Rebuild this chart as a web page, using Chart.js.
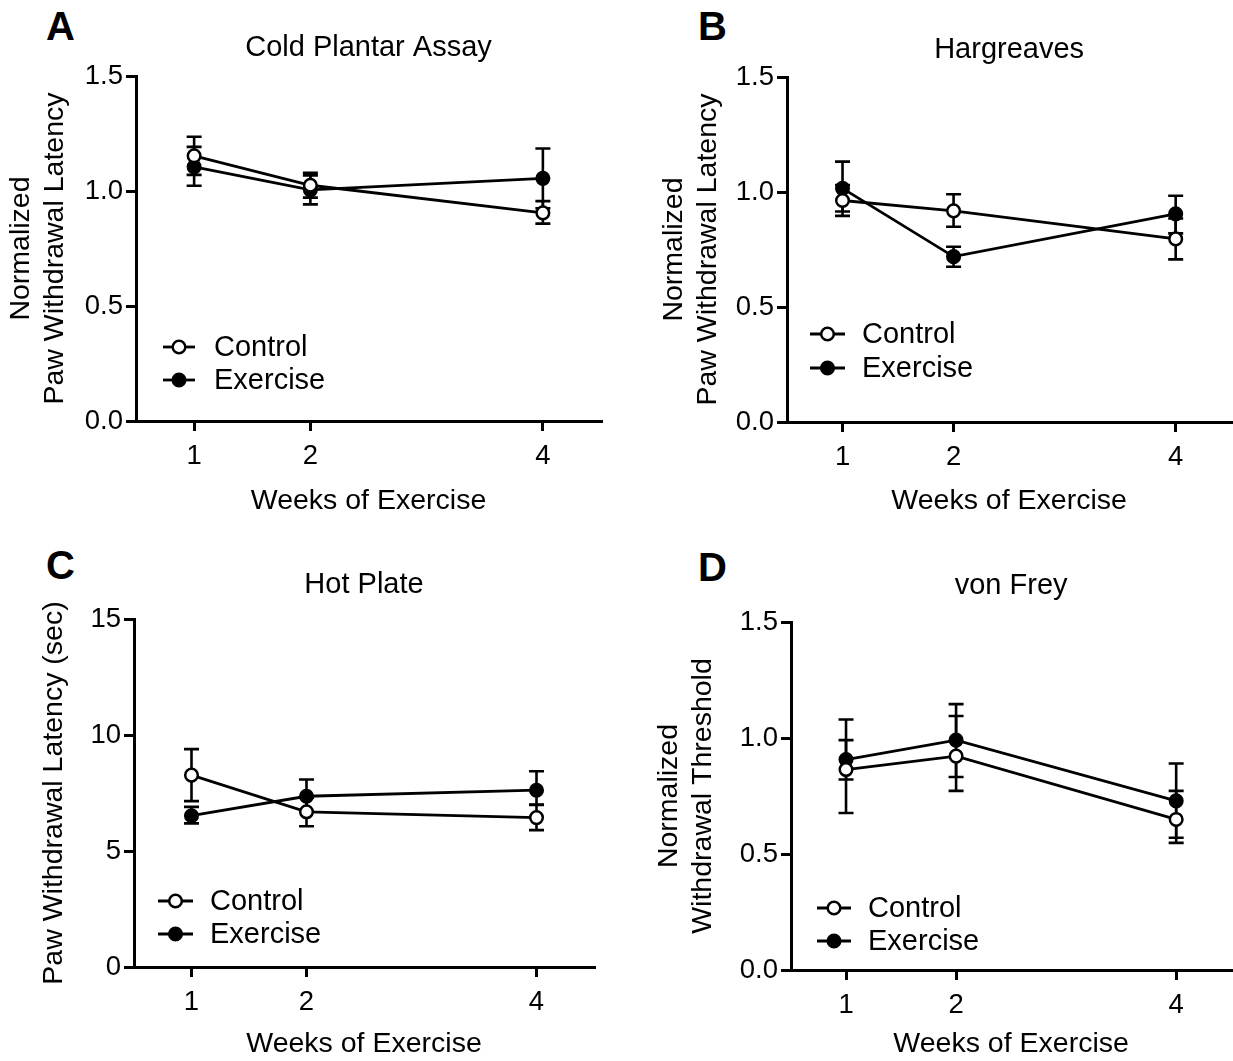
<!DOCTYPE html>
<html><head><meta charset="utf-8">
<script src="https://cdn.jsdelivr.net/npm/chart.js@4.4.1/dist/chart.umd.min.js"></script>
<style>
html,body{margin:0;padding:0;background:#fff;overflow:hidden;width:1233px;height:1061px;position:relative;}
canvas{position:absolute;}
.letter{position:absolute;font:bold 40px "Liberation Sans",Arial,sans-serif;color:#000;line-height:1;}
</style></head><body>
<div class="letter" style="left:46px;top:6px">A</div>
<div class="letter" style="left:698px;top:6px">B</div>
<div class="letter" style="left:46px;top:545px">C</div>
<div class="letter" style="left:698px;top:547px">D</div>
<canvas id="cA"></canvas><canvas id="cB"></canvas><canvas id="cC"></canvas><canvas id="cD"></canvas>
<script>
// ---- data ----
const weeks = [1, 2, 4];
const xTickLabels = ['1', '2', '4'];
const seriesNames = ['Control', 'Exercise'];
const panelTitles = ['Cold Plantar Assay', 'Hargreaves', 'Hot Plate', 'von Frey'];
const xAxisTitle = 'Weeks of Exercise';
const yTitleA = ['Normalized', 'Paw Withdrawal Latency'];
const yTitleB = ['Normalized', 'Paw Withdrawal Latency'];
const yTitleC = ['Paw Withdrawal Latency (sec)'];
const yTitleD = ['Normalized', 'Withdrawal Threshold'];
const yTicksNorm = [0, 0.5, 1.0, 1.5];
const yTicksSec = [0, 5, 10, 15];

const coldControl   = [1.153, 1.025, 0.905];
const coldControlHi = [1.236, 1.079, 0.956];
const coldControlLo = [1.070, 0.971, 0.858];
const coldExercise   = [1.105, 1.005, 1.055];
const coldExerciseHi = [1.192, 1.068, 1.185];
const coldExerciseLo = [1.023, 0.942, 0.925];

const hargControl   = [0.963, 0.918, 0.796];
const hargControlHi = [1.030, 0.990, 0.885];
const hargControlLo = [0.896, 0.849, 0.707];
const hargExercise   = [1.016, 0.719, 0.905];
const hargExerciseHi = [1.132, 0.762, 0.984];
const hargExerciseLo = [0.915, 0.675, 0.820];

const hotControl   = [8.27, 6.69, 6.44];
const hotControlHi = [9.39, 7.30, 6.98];
const hotControlLo = [7.15, 6.07, 5.90];
const hotExercise   = [6.52, 7.36, 7.62];
const hotExerciseHi = [6.90, 8.08, 8.44];
const hotExerciseLo = [6.19, 6.70, 7.00];

const vfControl   = [0.864, 0.922, 0.649];
const vfControlHi = [1.080, 1.095, 0.772];
const vfControlLo = [0.677, 0.772, 0.548];
const vfExercise   = [0.907, 0.991, 0.729];
const vfExerciseHi = [0.991, 1.146, 0.890];
const vfExerciseLo = [0.821, 0.832, 0.570];

// ---- style / layout ----
const FONT = '"Liberation Sans", Arial, Helvetica, sans-serif';
const FS_TITLE = 29, FS_AXIS = 28.5, FS_TICK = 27.5, FS_LEG = 29;
const LHF = 1.2;

const errorBars = {
  id: 'errorBars',
  beforeDatasetsDraw(chart) {
    const {ctx, scales: {x, y}} = chart;
    ctx.save();
    ctx.strokeStyle = '#000'; ctx.lineWidth = 2.6; ctx.lineCap = 'butt';
    chart.data.datasets.forEach(ds => {
      ds.data.forEach((pt, i) => {
        const px = x.getPixelForValue(pt.x);
        const yh = y.getPixelForValue(ds.hi[i]);
        const yl = y.getPixelForValue(ds.lo[i]);
        ctx.beginPath();
        ctx.moveTo(px, yh); ctx.lineTo(px, yl);
        ctx.moveTo(px - 7.5, yh); ctx.lineTo(px + 7.5, yh);
        ctx.moveTo(px - 7.5, yl); ctx.lineTo(px + 7.5, yl);
        ctx.stroke();
      });
    });
    ctx.restore();
  }
};

const inlineLegend = {
  id: 'inlineLegend',
  afterDraw(chart, args, opts) {
    const {ctx, chartArea: a} = chart;
    ctx.save();
    chart.data.datasets.forEach((ds, i) => {
      const y = a.bottom - opts.rows[i];
      const x0 = a.left + opts.lineX0, x1 = a.left + opts.lineX1;
      ctx.strokeStyle = '#000'; ctx.lineWidth = 2.8;
      ctx.beginPath(); ctx.moveTo(x0, y); ctx.lineTo(x1, y); ctx.stroke();
      ctx.beginPath(); ctx.arc((x0 + x1) / 2, y, 6.3, 0, Math.PI * 2);
      ctx.fillStyle = ds.pointBackgroundColor; ctx.fill();
      ctx.lineWidth = 2.5; ctx.stroke();
      ctx.fillStyle = '#000';
      ctx.font = FS_LEG + 'px ' + FONT;
      ctx.textBaseline = 'middle'; ctx.textAlign = 'left';
      ctx.fillText(ds.label, a.left + opts.textX, y + 1);
    });
    ctx.restore();
  }
};

function dataset(label, vals, hi, lo, fill) {
  return {
    label, hi, lo,
    data: weeks.map((w, i) => ({x: w, y: vals[i]})),
    borderColor: '#000', borderWidth: 2.8, backgroundColor: fill,
    pointBackgroundColor: fill, pointBorderColor: '#000',
    pointRadius: 6.3, pointBorderWidth: 2.5, pointHoverRadius: 6.3,
    tension: 0, fill: false
  };
}

function makePanel(id, p) {
  const el = document.getElementById(id);
  el.width = p.w; el.height = p.h;
  el.style.left = p.left + 'px'; el.style.top = p.top + 'px';
  const tLH = FS_TITLE * LHF, aLH = FS_AXIS * LHF;
  const axisCommon = {
    border: {display: true, color: '#000', width: 3},
    grid: {display: true, drawOnChartArea: false, drawTicks: true, tickLength: 10, color: '#000', lineWidth: 3},
  };
  new Chart(el, {
    type: 'line',
    data: {datasets: [
      dataset(seriesNames[0], p.c, p.cHi, p.cLo, '#fff'),
      dataset(seriesNames[1], p.e, p.eHi, p.eLo, '#000')
    ]},
    options: {
      responsive: false, animation: false, devicePixelRatio: 1,
      layout: {padding: {left: 0, right: p.w - p.area.r, top: 0, bottom: 0}},
      plugins: {
        legend: {display: false}, tooltip: {enabled: false},
        title: {display: true, fullSize: false, text: p.title, color: '#000',
          font: {family: FONT, size: FS_TITLE, weight: 'normal', lineHeight: LHF},
          padding: {top: p.titleY - tLH / 2, bottom: p.area.t - p.titleY - tLH / 2}},
        inlineLegend: p.legend
      },
      scales: {
        x: Object.assign({}, axisCommon, {
          type: 'linear', min: 0.5, max: 4.5,
          afterBuildTicks: s => { s.ticks = weeks.map(v => ({value: v})); },
          afterFit: s => { s.height = p.h - p.area.b; },
          ticks: {color: '#000', font: {family: FONT, size: FS_TICK}, padding: 9,
            callback: v => xTickLabels[weeks.indexOf(v)], maxRotation: 0, autoSkip: false},
          title: {display: true, text: xAxisTitle, color: '#000',
            font: {family: FONT, size: FS_AXIS, lineHeight: LHF},
            padding: {top: 0, bottom: Math.max(0, p.h - p.xTitleY - aLH / 2)}}
        }),
        y: Object.assign({}, axisCommon, {
          type: 'linear', min: p.yTicks[0], max: p.yTicks[p.yTicks.length - 1],
          afterBuildTicks: s => { s.ticks = p.yTicks.map(v => ({value: v})); },
          afterFit: s => { s.width = p.area.l; },
          ticks: {color: '#000', font: {family: FONT, size: FS_TICK}, padding: 3,
            callback: v => p.yFmt(v)},
          title: {display: true, text: p.yTitle, color: '#000',
            font: {family: FONT, size: FS_AXIS, lineHeight: LHF},
            padding: {top: p.yTitleX - aLH / 2, bottom: 0}}
        })
      }
    },
    plugins: [errorBars, inlineLegend]
  });
}

const fmt1 = v => v.toFixed(1);
const fmt0 = v => String(v);

makePanel('cA', {left: 0, top: 0, w: 616, h: 530, area: {l: 136, r: 601, t: 76, b: 421},
  title: panelTitles[0], titleY: 48, xTitleY: 501, yTitle: yTitleA, yTitleX: 21,
  yTicks: yTicksNorm, yFmt: fmt1,
  c: coldControl, cHi: coldControlHi, cLo: coldControlLo, e: coldExercise, eHi: coldExerciseHi, eLo: coldExerciseLo,
  legend: {lineX0: 27, lineX1: 59, textX: 78, rows: [74, 41]}});

makePanel('cB', {left: 616, top: 0, w: 624, h: 530, area: {l: 171, r: 624, t: 77, b: 422},
  title: panelTitles[1], titleY: 50, xTitleY: 501, yTitle: yTitleB, yTitleX: 58,
  yTicks: yTicksNorm, yFmt: fmt1,
  c: hargControl, cHi: hargControlHi, cLo: hargControlLo, e: hargExercise, eHi: hargExerciseHi, eLo: hargExerciseLo,
  legend: {lineX0: 23, lineX1: 58, textX: 75, rows: [88, 54]}});

makePanel('cC', {left: 0, top: 530, w: 616, h: 531, area: {l: 134, r: 594, t: 89, b: 437},
  title: panelTitles[2], titleY: 55, xTitleY: 516, yTitle: yTitleC, yTitleX: 54,
  yTicks: yTicksSec, yFmt: fmt0,
  c: hotControl, cHi: hotControlHi, cLo: hotControlLo, e: hotExercise, eHi: hotExerciseHi, eLo: hotExerciseLo,
  legend: {lineX0: 24, lineX1: 59, textX: 76, rows: [66, 33]}});

makePanel('cD', {left: 616, top: 530, w: 624, h: 531, area: {l: 175, r: 624, t: 92, b: 440},
  title: panelTitles[3], titleY: 56, xTitleY: 516, yTitle: yTitleD, yTitleX: 53,
  yTicks: yTicksNorm, yFmt: fmt1,
  c: vfControl, cHi: vfControlHi, cLo: vfControlLo, e: vfExercise, eHi: vfExerciseHi, eLo: vfExerciseLo,
  legend: {lineX0: 26, lineX1: 60, textX: 77, rows: [62, 29]}});
</script>
</body></html>
